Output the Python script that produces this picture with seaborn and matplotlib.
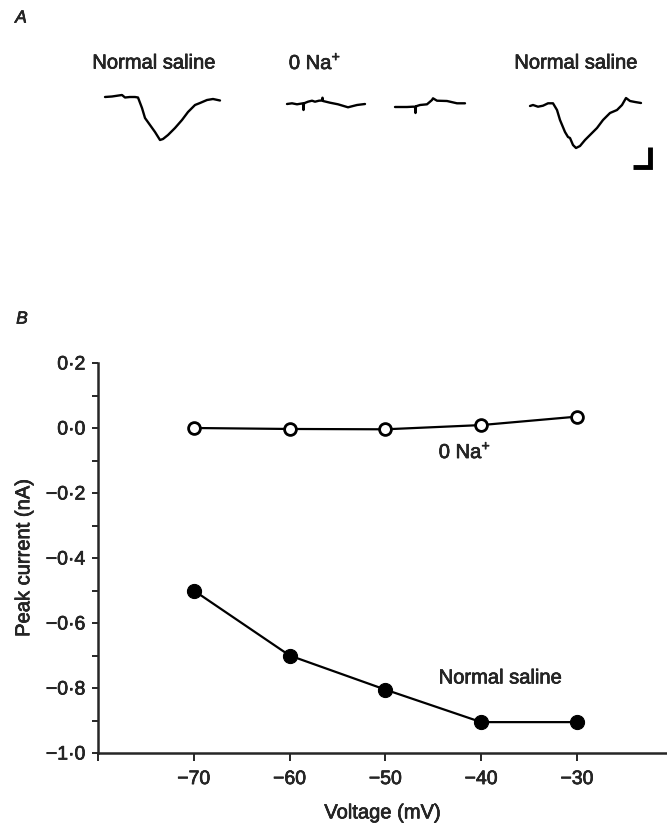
'''
Peak current vs voltage, normal saline and 0 Na+
'''

import numpy as np
import pandas as pd
import seaborn as sns
import matplotlib.pyplot as plt
import matplotlib.patheffects as pe
from matplotlib.ticker import FixedLocator, MultipleLocator, FuncFormatter

W, H = 667, 824

# Panel B data
voltage = [-70, -60, -50, -40, -30]
current_normal = [-0.5, -0.7, -0.805, -0.905, -0.905]
current_zero_na = [0.0, -0.003, -0.004, 0.009, 0.035]

# Panel A traces (time, current), arbitrary units
trace1_t = [0, 7, 17, 20, 25, 30, 33, 37, 40, 45, 50, 55, 58, 63, 70, 77, 83, 90, 95, 102, 108, 115]
trace1_i = [0, 0.5, 2, -0.5, 0, 0, -0.5, -11, -21, -28, -35, -43, -42, -38, -31, -23, -15, -8, -6, -3, -2, -3.5]

trace2_t = [0, 5, 10, 16, 16.5, 17, 21, 25, 28, 32, 35, 35.5, 36, 43, 51, 61, 70, 78]
trace2_i = [0, 0.7, -0.3, 0.7, -6, 0.7, 2.3, 3.3, 2.3, 3.3, 3.5, 6.3, 3, 1.3, -0.3, -3.3, -1, 0]

trace3_t = [0, 12, 18, 20, 20.5, 21, 25, 32, 37, 38, 42, 52, 62, 70]
trace3_i = [0, 0, 0.3, 0.3, -6, 0.7, 2, 2.7, 7, 8.7, 6.3, 6, 3.7, 3.7]

trace4_t = [0, 3, 8, 13, 18, 23, 27, 30, 35, 38, 40, 43, 46, 50, 55, 60, 67, 73, 80, 87, 92, 96, 100, 105, 111]
trace4_i = [0, 1, -0.7, 0.3, 2.7, 2.7, -4, -14, -26, -31, -32, -39, -42, -40, -34, -29, -22, -14, -7, -4, 1, 8, 5, 4, 3]

# scale bar: horizontal leg then vertical leg on the right
scale_t = [0, 17, 17]
scale_i = [0, 0, 20]

sns.set_style('ticks')
plt.rcParams['font.family'] = ['Liberation Sans', 'DejaVu Sans']
plt.rcParams['mathtext.fontset'] = 'custom'
plt.rcParams['mathtext.rm'] = 'Liberation Sans'

# print looks a bit heavier than the screen font
thick = [pe.withStroke(linewidth=0.45, foreground='black')]

fig = plt.figure(figsize=(W / 100, H / 100), dpi=100)

# ---- Panel A: traces, in pixel-like units
axA = fig.add_axes([0, 1 - 200 / H, 1, 200 / H])
axA.set_xlim(0, W)
axA.set_ylim(-200, 0)
axA.axis('off')

# (start x, baseline) for each trace
offsets = [(105, -97), (287, -104), (395, -107), (530, -106)]
traces = [(trace1_t, trace1_i), (trace2_t, trace2_i), (trace3_t, trace3_i), (trace4_t, trace4_i)]
for (x0, y0), (t, i) in zip(offsets, traces):
    df = pd.DataFrame({'t': np.array(t) + x0, 'i': np.array(i) + y0})
    sns.lineplot(data=df, x='t', y='i', ax=axA, sort=False, estimator=None,
                 color='black', linewidth=1.7)

axA.plot(np.array(scale_t) + 633, np.array(scale_i) - 167, color='black',
         linewidth=3.5, solid_joinstyle='miter', solid_capstyle='butt')

for x, s in [(154, 'Normal saline'), (315, '0 Na$^{+}$'), (576, 'Normal saline')]:
    axA.text(x, -63, s, ha='center', va='center', fontsize=14.5, path_effects=thick)

fig.text(21 / W, 1 - 18 / H, 'A', fontsize=12.5, style='italic', ha='center',
         va='center', path_effects=thick)
fig.text(22 / W, 1 - 319 / H, 'B', fontsize=12.5, style='italic', ha='center',
         va='center', path_effects=thick)

# ---- Panel B
ax = fig.add_axes([98 / W, (H - 753) / H, (W - 98) / W, 390 / H])
px_per_mv = 9.58
ax.set_xlim(-80, -80 + (W - 98) / px_per_mv)
ax.set_ylim(-1.0, 0.2)

sns.lineplot(x=voltage, y=current_zero_na, ax=ax, color='black', linewidth=1.6,
             marker='o', markersize=8.5, markerfacecolor='white',
             markeredgecolor='black', markeredgewidth=2.0)
sns.lineplot(x=voltage, y=current_normal, ax=ax, color='black', linewidth=1.6,
             marker='o', markersize=10.2, markerfacecolor='black',
             markeredgecolor='black')

ax.text(-41.7, -0.074, '0 Na$^{+}$', ha='center', va='center', fontsize=14.5,
        path_effects=thick)
ax.text(-38.0, -0.769, 'Normal saline', ha='center', va='center', fontsize=14.5,
        path_effects=thick)

sns.despine(ax=ax)
ax.spines['left'].set_linewidth(1.8)
ax.spines['bottom'].set_linewidth(1.8)

def fmt(v, pos=None):
    s = '{:.1f}'.format(abs(v)).replace('.', '\u00b7')
    return ('\u2212' + s) if v < -1e-9 else s

ax.yaxis.set_major_locator(MultipleLocator(0.2))
ax.yaxis.set_minor_locator(MultipleLocator(0.1))
ax.yaxis.set_major_formatter(FuncFormatter(fmt))

xt = [-80, -70, -60, -50, -40, -30]
ax.xaxis.set_major_locator(FixedLocator(xt))
ax.set_xticklabels(['', '\u221270', '\u221260', '\u221250', '\u221240', '\u221230'])

ax.tick_params(axis='y', which='both', direction='out', length=4, width=1.4,
               labelsize=14, pad=5)
ax.tick_params(axis='x', direction='out', length=6, width=1.4, labelsize=14, pad=7)

for lab in ax.get_xticklabels() + ax.get_yticklabels():
    lab.set_path_effects(thick)

ax.set_xlabel('Voltage (mV)', fontsize=14.5, labelpad=11, path_effects=thick)
ax.set_ylabel('Peak current (nA)', fontsize=14.5, labelpad=9, path_effects=thick)

plt.savefig('out.png', dpi=100)
